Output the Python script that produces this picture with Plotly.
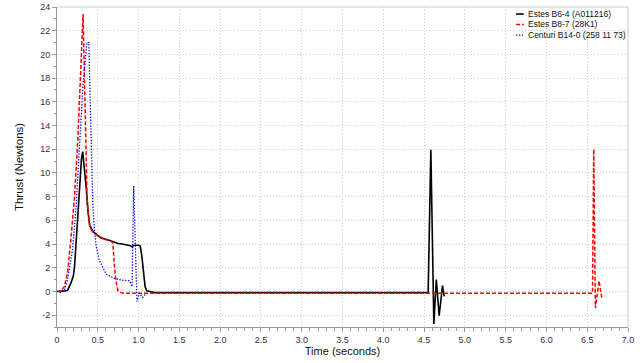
import plotly.graph_objects as go

# Estes B6-4 (A011216)
b6_time = [0, 0.05, 0.1, 0.13, 0.17, 0.2, 0.215, 0.25, 0.28, 0.3, 0.315, 0.33, 0.36, 0.38, 0.40,
           0.44, 0.5, 0.54, 0.62, 0.685, 0.75, 0.8, 0.85, 0.9, 0.925, 0.935, 1.0, 1.02, 1.04, 1.06,
           1.08, 1.1, 1.15, 1.2, 2.0, 3.0, 4.0, 4.55, 4.583, 4.62, 4.65, 4.685, 4.726, 4.746]
b6_thrust = [0, 0, 0.05, 0.1, 0.7, 1.3, 2.1, 5.8, 9.4, 11.2, 11.8, 10.8, 8.6, 6.8, 5.6,
             5.06, 4.75, 4.5, 4.36, 4.2, 4.05, 4.0, 3.95, 3.85, 3.75, 3.9, 3.9, 3.85, 3.0, 1.5,
             0.4, 0.05, -0.05, -0.1, -0.1, -0.1, -0.08, -0.1, 11.95, -2.75, 1.0, -2.05, 0.5, -0.42]

# Estes B8-7 (28K1)
b8_time = [0, 0.05, 0.09, 0.13, 0.17, 0.215, 0.255, 0.29, 0.32, 0.34, 0.36, 0.37, 0.39, 0.41,
           0.45, 0.5, 0.55, 0.6, 0.65, 0.685, 0.70, 0.72, 0.745, 0.78, 0.82, 1.0, 2.0, 3.0, 4.0,
           5.0, 6.0, 6.565, 6.58, 6.60, 6.645, 6.68]
b8_thrust = [0, 0.05, 0.4, 1.6, 4.4, 8.0, 12.8, 19.0, 23.4, 17.0, 10.0, 7.5, 6.0, 5.3,
             4.9, 4.7, 4.5, 4.35, 4.3, 4.1, 2.5, 1.0, 0.1, -0.1, -0.15, -0.15, -0.15, -0.15, -0.15,
             -0.15, -0.15, -0.15, 12.0, -1.4, 0.9, -0.6]

# Centuri B14-0 (258 11 73)
b14_time = [0, 0.05, 0.09, 0.13, 0.19, 0.235, 0.276, 0.32, 0.366, 0.39, 0.40, 0.42, 0.43, 0.44,
            0.46, 0.48, 0.52, 0.54, 0.6, 0.62, 0.7, 0.8, 0.89, 0.92, 0.94, 0.98, 1.01, 1.05, 1.08]
b14_thrust = [0, -0.1, 0.1, 1.0, 3.5, 7.2, 12.3, 17.5, 21.0, 21.0, 18.0, 12.5, 9.4, 7.2,
              5.2, 3.8, 2.6, 2.3, 1.5, 1.4, 1.1, 0.95, 0.9, 0.4, 8.9, -0.84, -0.14, -0.5, -0.28]

series_names = ["Estes B6-4 (A011216)", "Estes B8-7 (28K1)", "Centuri B14-0 (258 11 73)"]
series_colors = ["#000000", "#ff0000", "#0000ff"]
series_dashes = ["solid", "4px,2px", "1.3px,1.6px"]
series_widths = [1.6, 1.5, 1.3]

x_tick_vals = [0, 0.5, 1.0, 1.5, 2.0, 2.5, 3.0, 3.5, 4.0, 4.5, 5.0, 5.5, 6.0, 6.5, 7.0]
x_tick_text = ["0", "0.5", "1.0", "1.5", "2.0", "2.5", "3.0", "3.5", "4.0", "4.5", "5.0",
               "5.5", "6.0", "6.5", "7.0"]
y_tick_vals = [-2, 0, 2, 4, 6, 8, 10, 12, 14, 16, 18, 20, 22, 24]
y_tick_text = ["-2", "0", "2", "4", "6", "8", "10", "12", "14", "16", "18", "20", "22", "24"]

FONT = "Liberation Sans, Arial, Helvetica, sans-serif"

fig = go.Figure()
for tx, ty, nm, col, dsh, w in zip([b6_time, b8_time, b14_time],
                                   [b6_thrust, b8_thrust, b14_thrust],
                                   series_names, series_colors, series_dashes, series_widths):
    fig.add_trace(go.Scatter(x=tx, y=ty, mode="lines", name=nm, showlegend=False,
                             line=dict(color=col, width=w, dash=dsh)))

axis_common = dict(
    showline=True, linecolor="#999999", linewidth=1,
    ticks="outside", ticklen=4, tickcolor="#999999", tickwidth=1,
    showgrid=True, gridcolor="#cfcfcf", griddash="1px,2px", gridwidth=1,
    zeroline=False, automargin=False,
    tickfont=dict(family=FONT, size=9, color="#333333"),
)

fig.update_xaxes(range=[0, 7], tickvals=x_tick_vals, ticktext=x_tick_text,
                 minor=dict(dtick=0.1, ticklen=2.5, tickcolor="#999999", ticks="outside", showgrid=False),
                 title=dict(text="Time (seconds)", font=dict(family=FONT, size=11, color="#111111"),
                            standoff=0),
                 **axis_common)
fig.update_yaxes(range=[-3, 24], tickvals=y_tick_vals, ticktext=y_tick_text,
                 minor=dict(dtick=1, ticklen=2.5, tickcolor="#999999", ticks="outside", showgrid=False),
                 title=dict(text="Thrust (Newtons)", font=dict(family=FONT, size=11.5, color="#111111"),
                            standoff=14),
                 **axis_common)

# light frame on top/right
fig.add_shape(type="line", xref="paper", yref="paper", x0=0, x1=1, y0=1, y1=1,
              line=dict(color="#cccccc", width=1))
fig.add_shape(type="line", xref="paper", yref="paper", x0=1, x1=1, y0=0, y1=1,
              line=dict(color="#cccccc", width=1))

# compact legend (drawn manually for tight row spacing)
legend_x0, legend_x1, legend_text_x = 0.804, 0.8175, 0.8215
legend_rows_y = [0.978, 0.9455, 0.912]
for nm, col, dsh, w, yy in zip(series_names, series_colors, series_dashes, series_widths, legend_rows_y):
    fig.add_shape(type="line", xref="paper", yref="paper", x0=legend_x0, x1=legend_x1, y0=yy, y1=yy,
                  line=dict(color=col, width=w, dash=dsh))
    fig.add_annotation(xref="paper", yref="paper", x=legend_text_x, y=yy, text=nm,
                       showarrow=False, xanchor="left", yanchor="middle",
                       font=dict(family=FONT, size=8.5, color="#111111"))

fig.update_layout(
    width=640, height=363,
    margin=dict(l=57, r=12, t=7, b=36),
    paper_bgcolor="white", plot_bgcolor="white",
    font=dict(family=FONT, size=9, color="#111111"),
    showlegend=False,
)

fig.write_html("out.html", config={"displayModeBar": False},
               post_script="document.body.style.margin='0';document.body.style.padding='0';")
